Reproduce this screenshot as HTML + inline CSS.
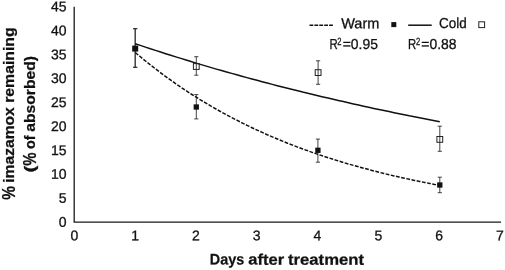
<!DOCTYPE html>
<html><head><meta charset="utf-8"><title>chart</title>
<style>
html,body{margin:0;padding:0;background:#fff;}
svg{display:block;}
text{font-family:"Liberation Sans",sans-serif;fill:#111;}
</style></head><body>
<svg width="505" height="270" viewBox="0 0 505 270">
<rect width="505" height="270" fill="#fff"/>
<g stroke="#1a1a1a" stroke-width="1.3" fill="none">
<path d="M74.2,6.7V222.1H501"/>
</g>
<g font-size="14" stroke="#111" stroke-width="0.3">
<text transform="translate(66.6,226.70) rotate(0.03)" text-anchor="end">0</text>
<text transform="translate(66.6,202.76) rotate(0.03)" text-anchor="end">5</text>
<text transform="translate(66.6,178.83) rotate(0.03)" text-anchor="end">10</text>
<text transform="translate(66.6,154.90) rotate(0.03)" text-anchor="end">15</text>
<text transform="translate(66.6,130.96) rotate(0.03)" text-anchor="end">20</text>
<text transform="translate(66.6,107.02) rotate(0.03)" text-anchor="end">25</text>
<text transform="translate(66.6,83.09) rotate(0.03)" text-anchor="end">30</text>
<text transform="translate(66.6,59.16) rotate(0.03)" text-anchor="end">35</text>
<text transform="translate(66.6,35.22) rotate(0.03)" text-anchor="end">40</text>
<text transform="translate(66.6,11.29) rotate(0.03)" text-anchor="end">45</text>
<text transform="translate(74.3,240.3) rotate(0.03)" text-anchor="middle">0</text>
<text transform="translate(135.1,240.3) rotate(0.03)" text-anchor="middle">1</text>
<text transform="translate(195.9,240.3) rotate(0.03)" text-anchor="middle">2</text>
<text transform="translate(256.7,240.3) rotate(0.03)" text-anchor="middle">3</text>
<text transform="translate(317.5,240.3) rotate(0.03)" text-anchor="middle">4</text>
<text transform="translate(378.3,240.3) rotate(0.03)" text-anchor="middle">5</text>
<text transform="translate(439.1,240.3) rotate(0.03)" text-anchor="middle">6</text>
<text transform="translate(499.9,240.3) rotate(0.03)" text-anchor="middle">7</text>
</g>
<g stroke="#222" stroke-width="0.85" fill="none">
<path d="M135.2,28.7V67.3M133.1,28.7H137.3M133.1,67.3H137.3"/>
<path d="M196.3,94.6V118.9M194.2,94.6H198.4M194.2,118.9H198.4"/>
<path d="M317.9,139.1V162.2M315.8,139.1H320.0M315.8,162.2H320.0"/>
<path d="M439.8,177.2V192.7M437.7,177.2H441.9M437.7,192.7H441.9"/>
<path d="M135.2,28.7V67.3M133.1,28.7H137.3M133.1,67.3H137.3"/>
<path d="M196.3,56.7V75.2M194.2,56.7H198.4M194.2,75.2H198.4"/>
<path d="M318.1,60.8V84.3M316.0,60.8H320.2M316.0,84.3H320.2"/>
<path d="M439.8,126.2V151.3M437.7,126.2H441.9M437.7,151.3H441.9"/>
</g>
<path d="M135.2,43.7 L140.3,45.4 L145.4,47.1 L150.4,48.8 L155.5,50.4 L160.6,52.0 L165.7,53.7 L170.7,55.3 L175.8,56.9 L180.9,58.4 L186.0,60.0 L191.0,61.5 L196.1,63.1 L201.2,64.6 L206.3,66.1 L211.3,67.6 L216.4,69.1 L221.5,70.5 L226.6,72.0 L231.7,73.4 L236.7,74.8 L241.8,76.2 L246.9,77.6 L252.0,79.0 L257.0,80.3 L262.1,81.7 L267.2,83.0 L272.3,84.4 L277.3,85.7 L282.4,87.0 L287.5,88.3 L292.6,89.5 L297.7,90.8 L302.7,92.1 L307.8,93.3 L312.9,94.5 L318.0,95.7 L323.0,96.9 L328.1,98.1 L333.2,99.3 L338.3,100.5 L343.3,101.6 L348.4,102.8 L353.5,103.9 L358.6,105.1 L363.6,106.2 L368.7,107.3 L373.8,108.4 L378.9,109.5 L384.0,110.5 L389.0,111.6 L394.1,112.7 L399.2,113.7 L404.3,114.7 L409.3,115.8 L414.4,116.8 L419.5,117.8 L424.6,118.8 L429.6,119.7 L434.7,120.7 L439.8,121.7" stroke="#111" stroke-width="1.5" fill="none"/>
<path d="M135.3,52.5 L140.4,56.8 L145.5,61.0 L150.5,65.0 L155.6,69.0 L160.7,72.8 L165.8,76.6 L170.8,80.2 L175.9,83.8 L181.0,87.3 L186.1,90.7 L191.1,94.0 L196.2,97.2 L201.3,100.4 L206.4,103.4 L211.4,106.4 L216.5,109.3 L221.6,112.2 L226.7,114.9 L231.7,117.6 L236.8,120.2 L241.9,122.8 L247.0,125.3 L252.0,127.7 L257.1,130.1 L262.2,132.4 L267.2,134.7 L272.3,136.9 L277.4,139.0 L282.5,141.1 L287.6,143.2 L292.6,145.1 L297.7,147.1 L302.8,149.0 L307.9,150.8 L312.9,152.6 L318.0,154.4 L323.1,156.1 L328.1,157.7 L333.2,159.3 L338.3,160.9 L343.4,162.5 L348.5,164.0 L353.5,165.4 L358.6,166.8 L363.7,168.2 L368.8,169.6 L373.8,170.9 L378.9,172.2 L384.0,173.5 L389.1,174.7 L394.1,175.9 L399.2,177.0 L404.3,178.2 L409.4,179.3 L414.4,180.4 L419.5,181.4 L424.6,182.4 L429.7,183.4 L434.7,184.4 L439.8,185.3" stroke="#111" stroke-width="1.5" fill="none" stroke-dasharray="3.8 1.5"/>
<g fill="#111">
<rect x="132.20" y="45.60" width="6.0" height="6.0"/>
<rect x="193.65" y="104.35" width="5.3" height="5.3"/>
<rect x="315.25" y="147.65" width="5.3" height="5.3"/>
<rect x="437.15" y="182.35" width="5.3" height="5.3"/>
</g>
<g fill="none" stroke="#222" stroke-width="1">
<rect x="193.4" y="63.6" width="5.8" height="5.8"/>
<rect x="315.2" y="69.7" width="5.8" height="5.8"/>
<rect x="436.9" y="136.5" width="5.8" height="5.8"/>
</g>
<g font-size="15.4" font-weight="bold" stroke="#111" stroke-width="0.25">
<text transform="translate(209.8,264.6) rotate(0.03)"><tspan x="0.0" textLength="34.4" lengthAdjust="spacingAndGlyphs">Days</tspan> <tspan x="38.5" textLength="35.9" lengthAdjust="spacingAndGlyphs">after</tspan> <tspan x="78.2" textLength="76.0" lengthAdjust="spacingAndGlyphs">treatment</tspan></text>
<text transform="translate(14.3,0) rotate(-90)"><tspan x="-199.7" y="0.6" font-size="17.5" textLength="13.7" lengthAdjust="spacingAndGlyphs">%</tspan> <tspan x="-182.8" y="0" textLength="75.6" lengthAdjust="spacingAndGlyphs">imazamox</tspan> <tspan x="-102.8" y="0" textLength="75.4" lengthAdjust="spacingAndGlyphs">remaining</tspan></text>
<text transform="translate(35.0,0) rotate(-90)"><tspan x="-172.6" y="0" textLength="6.9" lengthAdjust="spacingAndGlyphs">(</tspan><tspan x="-165.8" y="0.6" font-size="17.5" textLength="13.2" lengthAdjust="spacingAndGlyphs">%</tspan> <tspan x="-149.0" y="0" textLength="13.6" lengthAdjust="spacingAndGlyphs">of</tspan> <tspan x="-131.7" y="0" textLength="75.6" lengthAdjust="spacingAndGlyphs">absorbed)</tspan></text>
</g>
<g font-size="14.5" stroke="#111" stroke-width="0.3">
<path d="M309.5,25.3H333" stroke="#111" stroke-width="1.6" stroke-dasharray="3.8 1.1" fill="none"/>
<text transform="translate(341.2,28.3) rotate(0.03)"><tspan x="0.0" textLength="38.1" lengthAdjust="spacingAndGlyphs">Warm</tspan></text>
<text transform="translate(439.0,28.3) rotate(0.03)"><tspan x="0.0" textLength="27.6" lengthAdjust="spacingAndGlyphs">Cold</tspan></text>
<text transform="translate(329.5,49) rotate(0.03)"><tspan x="0.0" textLength="8.2" lengthAdjust="spacingAndGlyphs">R</tspan><tspan x="7.8" y="-4.4" font-size="10.5" textLength="4.2" lengthAdjust="spacingAndGlyphs">2</tspan><tspan x="13.2" y="0" textLength="35.2" lengthAdjust="spacingAndGlyphs">=0.95</tspan></text>
<text transform="translate(408.1,49) rotate(0.03)"><tspan x="0.0" textLength="8.2" lengthAdjust="spacingAndGlyphs">R</tspan><tspan x="7.8" y="-4.4" font-size="10.5" textLength="4.2" lengthAdjust="spacingAndGlyphs">2</tspan><tspan x="13.2" y="0" textLength="35.2" lengthAdjust="spacingAndGlyphs">=0.88</tspan></text>

<rect x="391.3" y="22.1" width="5" height="5" fill="#111" stroke="none"/>
<path d="M408.2,25.2H431.7" stroke="#111" stroke-width="1.5" fill="none"/>
<rect x="478.8" y="21.8" width="5.8" height="5.8" fill="none" stroke="#222" stroke-width="1"/>
</g>
</svg>
</body></html>
